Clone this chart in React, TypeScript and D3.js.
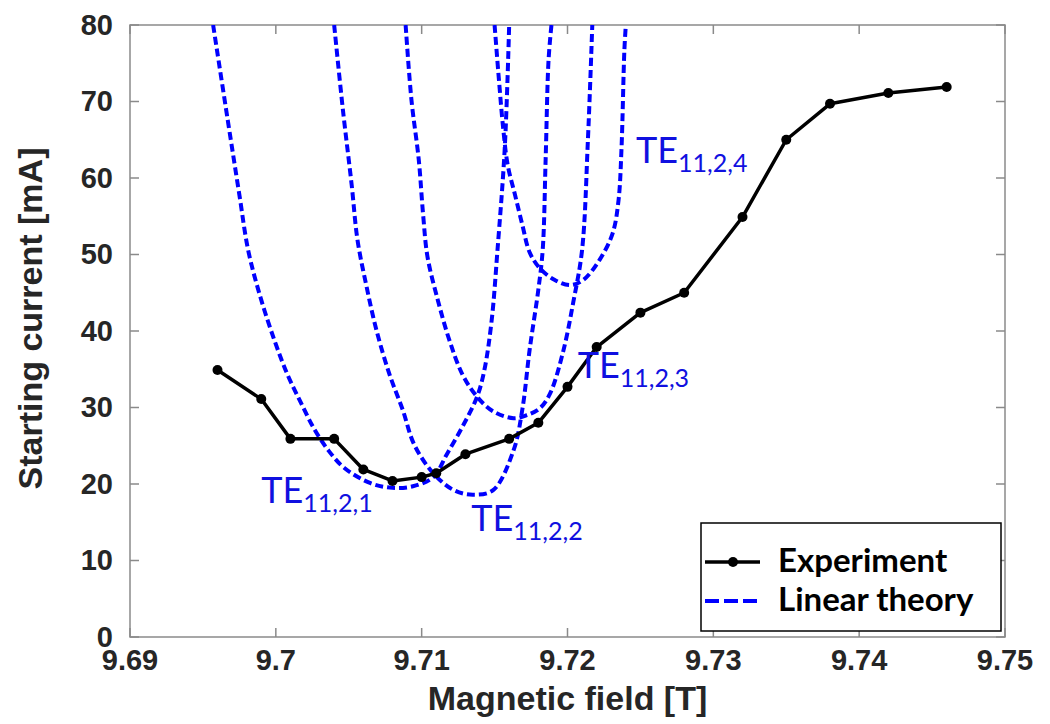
import React from "react";
import * as d3 from "d3";

// Experiment data
const expB = [9.696, 9.699, 9.701, 9.704, 9.706, 9.708, 9.710, 9.711, 9.713, 9.716, 9.718, 9.720, 9.722, 9.725, 9.728, 9.732, 9.735, 9.738, 9.742, 9.746];
const expI = [34.9, 31.1, 25.9, 25.9, 21.9, 20.4, 20.9, 21.4, 23.9, 25.9, 28.0, 32.7, 37.9, 42.4, 45.0, 54.9, 65.0, 69.7, 71.1, 71.9];

// Linear theory curves
const te1B = [9.6957, 9.6967, 9.6975, 9.6981, 9.6989, 9.6999, 9.7008, 9.7017, 9.7026, 9.7036, 9.7047, 9.7065, 9.7080, 9.7094, 9.7108, 9.7117, 9.7128, 9.7138, 9.7143, 9.7148, 9.7152, 9.7157, 9.7160];
const te1I = [80, 67.6, 57.8, 50.6, 44.7, 38.8, 34.3, 30.7, 27.3, 24.4, 22.1, 20.1, 19.5, 19.7, 20.9, 23.8, 27.5, 31.4, 34.9, 41.4, 50.6, 64.0, 80];
const te2B = [9.7040, 9.7046, 9.7052, 9.7056, 9.7062, 9.7069, 9.7078, 9.7087, 9.7095, 9.7108, 9.7122, 9.7135, 9.7149, 9.7163, 9.7169, 9.7174, 9.7180, 9.7183, 9.7185, 9.7187, 9.7189];
const te2I = [80, 68.9, 59.1, 51.9, 46.0, 40.1, 34.3, 29.7, 25.1, 21.4, 19.2, 18.6, 19.2, 24.4, 29.7, 37.5, 45.4, 50.6, 62.4, 75.4, 80];
const te3B = [9.7089, 9.7093, 9.7098, 9.7101, 9.7104, 9.7111, 9.7119, 9.7128, 9.7138, 9.7149, 9.7163, 9.7172, 9.7181, 9.7188, 9.7197, 9.7204, 9.7210, 9.7214, 9.7217];
const te3I = [80, 70.2, 62.4, 55.2, 49.7, 44.1, 38.8, 34.3, 31.4, 29.5, 28.6, 29.0, 29.9, 31.8, 37.3, 43.8, 50.6, 65.0, 80];
const te4B = [9.7150, 9.7153, 9.7156, 9.7159, 9.7164, 9.7169, 9.7174, 9.7181, 9.7191, 9.7202, 9.7211, 9.7222, 9.7231, 9.7235, 9.7237, 9.7239, 9.7240];
const te4I = [80, 72.8, 66.3, 61.7, 57.8, 53.9, 50.3, 48.2, 46.7, 46.0, 46.7, 49.3, 52.8, 57.1, 63.7, 76.7, 80];

const curveB = [te1B, te2B, te3B, te4B];
const curveI = [te1I, te2I, te3I, te4I];
const modeSubs = ["11,2,1", "11,2,2", "11,2,3", "11,2,4"];
const labelB = [9.6990, 9.7134, 9.7207, 9.7247];
const labelI = [17.5, 13.9, 33.9, 62.0];

const xTicks = [9.69, 9.7, 9.71, 9.72, 9.73, 9.74, 9.75];
const yTicks = [0, 10, 20, 30, 40, 50, 60, 70, 80];
const legendLabels = ["Experiment", "Linear theory"];

const W = 1050, H = 724;
const L = 130, R = 1005, T = 25, B = 637;

export default function App() {
  const x = d3.scaleLinear().domain([9.69, 9.75]).range([L, R]);
  const y = d3.scaleLinear().domain([0, 80]).range([B, T]);
  const line = d3.line<[number, number]>().x(d => x(d[0])).y(d => y(d[1]));
  const smooth = d3.line<[number, number]>().x(d => x(d[0])).y(d => y(d[1])).curve(d3.curveCatmullRom.alpha(0.5));
  const expPts: [number, number][] = expB.map((b, i) => [b, expI[i]]);
  const axisColor = "#8a8a8a";
  const textColor = "#262626";
  const blue = "#0000ff";
  const tick = 9;
  const fmt = (v: number) => String(+v.toFixed(2));
  return (
    <>
      <style>{`body{margin:0}`}</style>
      <svg width={W} height={H} style={{ display: "block", background: "#fff" }}>
        <defs>
          <clipPath id="plot">
            <rect x={L} y={T} width={R - L} height={B - T} />
          </clipPath>
        </defs>
        <rect x={L} y={T} width={R - L} height={B - T} fill="none" stroke={axisColor} strokeWidth={1.5} />
        {xTicks.map((t, i) => (
          <g key={"xt" + i}>
            <line x1={x(t)} x2={x(t)} y1={B} y2={B - tick} stroke={axisColor} strokeWidth={1.5} />
            <line x1={x(t)} x2={x(t)} y1={T} y2={T + tick} stroke={axisColor} strokeWidth={1.5} />
            <text x={x(t)} y={B + 33} textAnchor="middle" fontFamily="'Liberation Sans', Arial, sans-serif" fontWeight="bold" fontSize={29} fill={textColor}>{fmt(t)}</text>
          </g>
        ))}
        {yTicks.map((t, i) => (
          <g key={"yt" + i}>
            <line x1={L} x2={L + tick} y1={y(t)} y2={y(t)} stroke={axisColor} strokeWidth={1.5} />
            <line x1={R} x2={R - tick} y1={y(t)} y2={y(t)} stroke={axisColor} strokeWidth={1.5} />
            <text x={113} y={y(t)} dy="0.34em" textAnchor="end" fontFamily="'Liberation Sans', Arial, sans-serif" fontWeight="bold" fontSize={29} fill={textColor}>{t}</text>
          </g>
        ))}
        <text x={(L + R) / 2} y={710} textAnchor="middle" fontFamily="'Liberation Sans', Arial, sans-serif" fontWeight="bold" fontSize={34} fill={textColor}>Magnetic field [T]</text>
        <text transform={`translate(42,${(147 + 490) / 2}) rotate(-90)`} textAnchor="middle" fontFamily="'Liberation Sans', Arial, sans-serif" fontWeight="bold" fontSize={34} fill={textColor}>Starting current [mA]</text>

        <g clipPath="url(#plot)">
          {curveB.map((bs, k) => (
            <path key={"c" + k} d={smooth(bs.map((b, i) => [b, curveI[k][i]] as [number, number])) || ""} fill="none" stroke={blue} strokeWidth={4} strokeDasharray="8,4" />
          ))}
          <path d={line(expPts) || ""} fill="none" stroke="#000" strokeWidth={3.5} strokeLinejoin="round" />
          {expPts.map((p, i) => (
            <circle key={"p" + i} cx={x(p[0])} cy={y(p[1])} r={5} fill="#000" />
          ))}
        </g>

        {modeSubs.map((s, i) => (
          <text key={"lab" + i} x={x(labelB[i])} y={y(labelI[i])} fontFamily="Lato, 'Open Sans', sans-serif" fontSize={36} fill="#1010e0">
            <tspan>TE</tspan>
            <tspan fontSize={25} dy={9}>{s}</tspan>
          </text>
        ))}

        <rect x={701} y={523} width={300} height={108} fill="#fff" stroke="#000" strokeWidth={1.5} />
        <line x1={705} x2={760} y1={562} y2={562} stroke="#000" strokeWidth={3.5} />
        <circle cx={733} cy={562} r={5} fill="#000" />
        <line x1={705} x2={760} y1={601} y2={601} stroke={blue} strokeWidth={4} strokeDasharray="14,5" />
        <text x={778} y={572} fontFamily="Lato, 'Open Sans', sans-serif" fontWeight="bold" fontSize={33} fill="#000">{legendLabels[0]}</text>
        <text x={778} y={611} fontFamily="Lato, 'Open Sans', sans-serif" fontWeight="bold" fontSize={33} fill="#000">{legendLabels[1]}</text>
      </svg>
    </>
  );
}
